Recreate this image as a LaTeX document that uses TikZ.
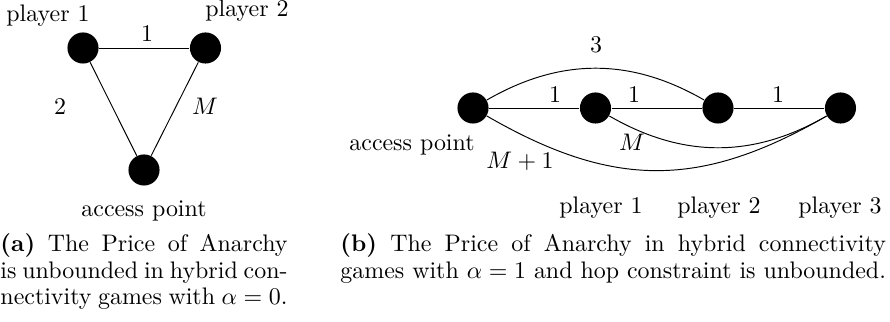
\documentclass[tikz,border=0pt]{standalone}
\usepackage{amsmath}
\usetikzlibrary{positioning}
\tikzset{
  player/.style={circle, fill=black, minimum size=13pt, inner sep=0pt},
  lbl/.style={anchor=base, inner sep=0pt},
  capt/.style={anchor=base west, inner sep=0pt, align=justify,
               font=\fontsize{10}{11}\selectfont},
}

\begin{document}
\begin{tikzpicture}[x=0.418pt, y=-0.418pt, node distance=37.8pt]
  \useasboundingbox (0,0) rectangle (890,322);
  % (a) triangle
  \node (p1a) [player] at (83,48) {};
  \node (p2a) [player, right=of p1a] {};
  \node (apa) [player] at (144,170) {};
  \draw (p1a) -- (p2a);
  \draw (p1a) -- (apa);
  \draw (p2a) -- (apa);
  \node (lp1a) [lbl] at (48,22) {player 1};
  \node (lp2a) [lbl] at (247,17) {player 2};
  \node (lapa) [lbl] at (144,217) {access point};
  \node (w12a) [lbl] at (147,41.5) {1};
  \node (w1aa) [lbl] at (60,115) {2};
  \node (w2aa) [lbl] at (205,115) {$M$};
  \node (capa) [capt, text width=120pt] at (0,252)
    {\textbf{(a)} The Price of Anarchy is unbounded in hybrid con-\linebreak
     nectivity games with $\alpha=0$.};

  % (b) chain
  \node (ap) [player] at (473,108) {};
  \node (p1) [player, right=of ap] {};
  \node (p2) [player, right=of p1] {};
  \node (p3) [player, right=of p2] {};
  \draw (ap) -- (p1);
  \draw (p1) -- (p2);
  \draw (p2) -- (p3);
  \draw (ap) to[bend left=30] (p2);
  \draw (ap) to[bend right=30, looseness=1.1] (p3);
  \draw (p1) to[bend right=30] (p3);
  \node (lap) [lbl] at (412,151) {access point};
  \node (lp1) [lbl] at (601,214) {player 1};
  \node (lp2) [lbl] at (719,214) {player 2};
  \node (lp3) [lbl] at (840,214) {player 3};
  \node (wap1) [lbl] at (555,103) {1};
  \node (w12) [lbl] at (634,103) {1};
  \node (w23) [lbl] at (778,103) {1};
  \node (wap2) [lbl] at (596,53) {3};
  \node (w13) [lbl] at (632,151) {$M$};
  \node (wap3) [lbl] at (520,169) {$M+1$};
  \node (capb) [capt, text width=228pt] at (340,252)
    {\textbf{(b)} The Price of Anarchy in hybrid connectivity\linebreak
     games with $\alpha=1$ and hop constraint is unbounded.};
\end{tikzpicture}
\end{document}
